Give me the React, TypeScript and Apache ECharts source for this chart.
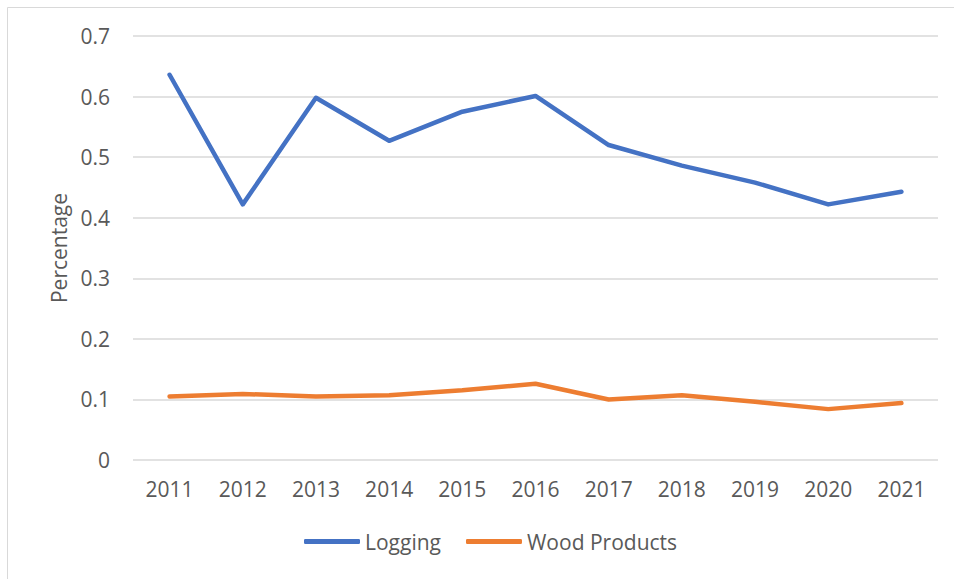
import React, { useEffect, useRef } from "react";
import * as echarts from "echarts";

const years = ["2011", "2012", "2013", "2014", "2015", "2016", "2017", "2018", "2019", "2020", "2021"];
const logging = [0.636, 0.422, 0.598, 0.527, 0.575, 0.601, 0.52, 0.486, 0.458, 0.422, 0.443];
const woodProducts = [0.105, 0.109, 0.105, 0.107, 0.115, 0.126, 0.1, 0.107, 0.096, 0.084, 0.094];
const yTicks = [0, 0.1, 0.2, 0.3, 0.4, 0.5, 0.6, 0.7];

const FONT = "'Open Sans', sans-serif";
const TEXT = "#595959";
const FS = 21;

export default function App() {
  const ref = useRef<HTMLDivElement>(null);
  useEffect(() => {
    if (!ref.current) return;
    const chart = echarts.init(ref.current, undefined, { renderer: "svg" });
    chart.setOption({
      animation: false,
      backgroundColor: "#ffffff",
      graphic: [
        {
          type: "rect",
          shape: { x: 7.5, y: 7.5, width: 980, height: 620 },
          style: { fill: "none", stroke: "#d9d9d9", lineWidth: 1 },
          silent: true,
        },
      ],
      grid: { left: 133, right: 16, top: 36, bottom: 119 },
      legend: {
        bottom: 22,
        left: 299,
        itemWidth: 56,
        itemHeight: 5,
        itemGap: 25,
        icon: "roundRect",
        textStyle: { fontFamily: FONT, fontSize: FS, color: TEXT },
        data: ["Logging", "Wood Products"],
      },
      xAxis: {
        type: "category",
        data: years,
        boundaryGap: true,
        axisLine: { show: false },
        axisTick: { show: false },
        axisLabel: { fontFamily: FONT, fontSize: FS, color: TEXT, margin: 18 },
      },
      yAxis: {
        type: "value",
        min: 0,
        max: 0.7,
        interval: 0.1,
        name: "Percentage",
        nameLocation: "middle",
        nameGap: 62,
        nameTextStyle: { fontFamily: FONT, fontSize: FS, color: TEXT },
        axisLine: { show: false },
        axisTick: { show: false },
        splitLine: { lineStyle: { color: "#d9d9d9", width: 1.5 } },
        axisLabel: {
          fontFamily: FONT,
          fontSize: FS,
          color: TEXT,
          margin: 23,
          formatter: (v: number) => {
            const t = yTicks.find((x) => Math.abs(x - v) < 1e-6);
            return t === undefined ? "" : String(Number(t.toFixed(1)));
          },
        },
      },
      series: [
        {
          name: "Logging",
          type: "line",
          data: logging,
          showSymbol: false,
          symbol: "none",
          itemStyle: { color: "#4472C4" },
          lineStyle: { color: "#4472C4", width: 4.5, cap: "round", join: "round" },
        },
        {
          name: "Wood Products",
          type: "line",
          data: woodProducts,
          showSymbol: false,
          symbol: "none",
          itemStyle: { color: "#ED7D31" },
          lineStyle: { color: "#ED7D31", width: 4.5, cap: "round", join: "round" },
        },
      ],
    });
    return () => chart.dispose();
  }, []);
  return (
    <div
      ref={ref}
      style={{ position: "fixed", left: 0, top: 0, width: 954, height: 579 }}
    />
  );
}
